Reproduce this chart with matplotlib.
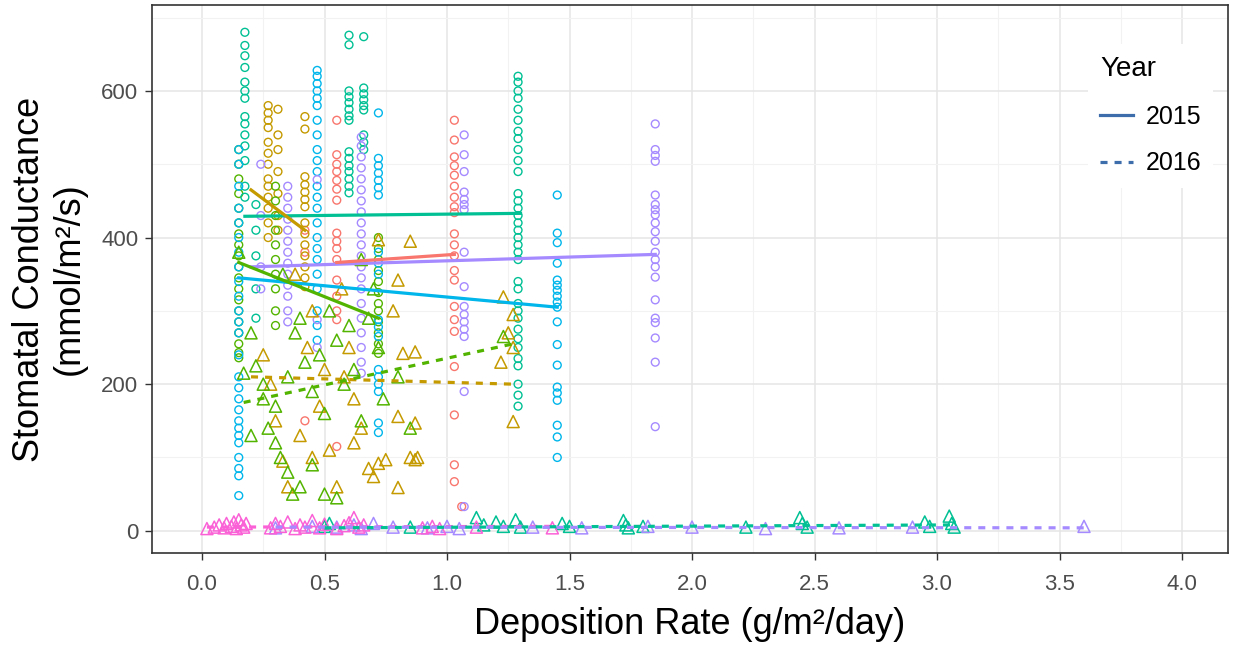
import matplotlib
matplotlib.use("Agg")
import matplotlib.pyplot as plt
from matplotlib.lines import Line2D

plt.rcParams['font.family'] = ['Liberation Sans', 'DejaVu Sans']

# ggplot hue palette, 7 groups
red = '#F8766D'
gold = '#C49A00'
green = '#53B400'
teal = '#00C094'
cyan = '#00B6EB'
purple = '#A58AFF'
pink = '#FB61D7'

# 2015 circles: (deposition rate, conductance values) per column
teal15_cols = [
    (0.175, [680, 662, 648, 632, 612, 600, 590, 565, 555, 540, 525, 505, 470, 455]),
    (0.22, [445, 410, 375, 330, 290]),
    (0.6, [676, 663, 600, 592, 584, 575, 566, 560, 517, 508, 498, 490, 480, 470, 461]),
    (0.66, [674, 604, 596, 588, 580, 574, 540, 530, 520]),
    (1.29, [620, 612, 600, 590, 575, 560, 545, 535, 520, 505, 490, 460, 450, 440, 430, 420,
            410, 400, 390, 380, 370, 340, 330, 310, 300, 290, 275, 262, 250, 235, 225, 200,
            185, 170]),
]
cyan15_cols = [
    (0.15, [520, 500, 470, 440, 420, 400, 380, 360, 340, 320, 300, 285, 270, 240, 210, 195,
            180, 165, 150, 140, 130, 120, 100, 85, 75, 48]),
    (0.47, [628, 620, 610, 600, 590, 580, 560, 540, 520, 505, 490, 470, 455, 440, 420, 400,
            385, 370, 350, 330, 300, 280, 260]),
    (0.72, [570, 508, 498, 488, 478, 468, 458, 380, 365, 350, 288, 278, 265, 220, 210, 200,
            190, 147, 134]),
    (1.45, [458, 406, 393, 365, 342, 335, 328, 320, 312, 305, 285, 254, 226, 196, 188, 178,
            144, 128, 100]),
]
purple15_cols = [
    (0.24, [500, 430, 360, 330]),
    (0.35, [470, 455, 440, 425, 410, 395, 380, 365, 350, 335, 320, 300, 285]),
    (0.47, [479, 288, 250]),
    (0.65, [537, 525, 510, 495, 480, 465, 450, 435, 420, 405, 390, 375, 360, 345, 330, 310,
            290, 270, 250, 230, 215]),
    (1.07, [540, 513, 490, 462, 452, 445, 438, 380, 333, 306, 295, 285, 275, 265, 190, 33]),
    (1.85, [555, 520, 512, 504, 458, 445, 438, 431, 420, 408, 395, 380, 370, 360, 346, 315,
            290, 284, 263, 230, 142]),
]
red15_cols = [
    (0.42, [410, 380, 150]),
    (0.55, [560, 513, 500, 490, 478, 466, 451, 406, 395, 385, 370, 342, 320, 300, 288, 115]),
    (1.03, [560, 533, 510, 498, 485, 470, 455, 442, 434, 405, 390, 375, 355, 342, 306, 288,
            272, 224, 158, 90, 67]),
    (1.06, [33]),
]
gold15_cols = [
    (0.27, [580, 570, 560, 550, 530, 515, 500, 480, 470, 455, 440, 420, 400]),
    (0.31, [575, 540, 520, 490, 460, 430, 410]),
    (0.42, [565, 548, 483, 472, 462, 452, 442, 420, 405, 390, 375, 360, 345, 333]),
]
green15_cols = [
    (0.15, [520, 500, 480, 460, 440, 420, 405, 390, 375, 360, 345, 330, 315, 300, 285, 270,
            255, 243, 236]),
    (0.3, [470, 450, 430, 410, 390, 370, 350, 330, 300, 280]),
    (0.72, [400, 385, 370, 355, 340, 325, 310, 300, 285, 270, 255, 242]),
]

# 2016 triangles
gold16_x = [0.25, 0.28, 0.3, 0.33, 0.35, 0.4, 0.43, 0.45, 0.48, 0.5, 0.52, 0.55, 0.57, 0.6,
            0.62, 0.65, 0.68, 0.7, 0.72, 0.75, 0.78, 0.8, 0.8, 0.8, 0.82, 0.85, 0.87, 0.87,
            0.87, 0.88, 0.72, 0.85, 1.22, 1.23, 1.25, 1.27, 1.27, 1.27, 0.58, 0.62, 0.45,
            0.38]
gold16_y = [240, 200, 150, 95, 60, 130, 250, 100, 170, 220, 110, 60, 330, 250, 180, 140, 85,
            74, 92, 97, 300, 342, 156, 59, 242, 395, 244, 147, 97, 100, 397, 100, 230, 319,
            270, 295, 250, 149, 210, 120, 300, 350]
green16_x = [0.15, 0.17, 0.2, 0.22, 0.25, 0.25, 0.27, 0.3, 0.32, 0.35, 0.35, 0.37, 0.38, 0.4,
             0.4, 0.42, 0.45, 0.48, 0.5, 0.5, 0.52, 0.55, 0.55, 0.58, 0.6, 0.62, 0.65, 0.68,
             0.7, 0.72, 0.74, 0.8, 0.85, 1.23, 0.2, 0.3, 0.33, 0.45, 0.65]
green16_y = [380, 215, 270, 225, 200, 180, 140, 120, 100, 80, 210, 50, 270, 290, 60, 230, 190,
             240, 160, 50, 300, 260, 45, 200, 280, 220, 150, 290, 330, 250, 180, 210, 140, 265,
             130, 170, 350, 90, 370]
pink16_x = [0.02, 0.05, 0.07, 0.09, 0.1, 0.12, 0.13, 0.14, 0.15, 0.16, 0.17, 0.18, 0.28, 0.3,
            0.32, 0.35, 0.38, 0.4, 0.42, 0.45, 0.48, 0.5, 0.55, 0.58, 0.6, 0.62, 0.64, 0.66,
            0.9, 0.94, 0.97, 1.12, 1.43]
pink16_y = [3, 5, 8, 4, 10, 6, 12, 3, 15, 8, 5, 10, 4, 10, 6, 12, 3, 8, 5, 14, 4, 9, 3, 7, 11,
            18, 5, 8, 4, 6, 3, 5, 4]
teal16_x = [0.5, 0.52, 0.85, 1.12, 1.15, 1.2, 1.23, 1.28, 1.3, 1.47, 1.5, 1.72, 1.73, 1.74,
            1.8, 2.22, 2.44, 2.45, 2.47, 2.95, 2.97, 3.05, 3.06, 3.07]
teal16_y = [6, 10, 5, 18, 8, 12, 6, 15, 5, 10, 6, 14, 8, 4, 6, 5, 18, 10, 5, 12, 6, 20, 10, 5]
purple16_x = [0.3, 0.45, 0.55, 0.62, 0.65, 0.7, 0.78, 0.92, 1.0, 1.05, 1.35, 1.55, 1.82, 2.0,
              2.3, 2.6, 2.9, 3.6]
purple16_y = [4, 6, 5, 8, 3, 10, 5, 4, 6, 3, 5, 4, 6, 5, 3, 4, 5, 6]

# fitted lines: (x ends, y ends)
fit15 = [
    (teal, [0.175, 1.3], [429, 433]),
    (cyan, [0.15, 1.45], [345, 305]),
    (purple, [0.2, 1.85], [360, 377]),
    (red, [0.55, 1.03], [366, 377]),
    (gold, [0.2, 0.42], [465, 410]),
    (green, [0.15, 0.72], [366, 290]),
]
fit16 = [
    (gold, [0.2, 1.27], [210, 200]),
    (green, [0.17, 1.27], [175, 255]),
    (pink, [0.02, 1.43], [5, 6]),
    (teal, [0.5, 3.07], [4, 8]),
    (purple, [0.3, 3.6], [5, 4]),
]

fig, ax = plt.subplots(figsize=(12.33, 6.45), dpi=100)
fig.subplots_adjust(left=0.1233, right=0.996, top=0.992, bottom=0.143)

for col, groups in [(red, red15_cols), (gold, gold15_cols), (green, green15_cols),
                    (teal, teal15_cols), (cyan, cyan15_cols), (purple, purple15_cols)]:
    for xv, ys in groups:
        ax.scatter([xv] * len(ys), ys, s=32, facecolors='none', edgecolors=col,
                   linewidths=1.0, zorder=3)

for col, xs, ys in [(gold, gold16_x, gold16_y), (green, green16_x, green16_y),
                    (teal, teal16_x, teal16_y), (purple, purple16_x, purple16_y),
                    (pink, pink16_x, pink16_y)]:
    ax.scatter(xs, ys, s=75, marker='^', facecolors='none', edgecolors=col,
               linewidths=1.1, zorder=3)

for col, xs, ys in fit15:
    ax.plot(xs, ys, color=col, lw=2.3, zorder=4)
for col, xs, ys in fit16:
    ax.plot(xs, ys, color=col, lw=2.3, ls=(0, (2.2, 2.2)), zorder=4)

ax.set_xlim(-0.204, 4.188)
ax.set_ylim(-30, 717)
ax.set_xticks([0, 0.5, 1, 1.5, 2, 2.5, 3, 3.5, 4])
ax.set_xticklabels(['0.0', '0.5', '1.0', '1.5', '2.0', '2.5', '3.0', '3.5', '4.0'])
ax.set_yticks([0, 200, 400, 600])
ax.set_xticks([0.25, 0.75, 1.25, 1.75, 2.25, 2.75, 3.25, 3.75], minor=True)
ax.set_yticks([100, 300, 500, 700], minor=True)
ax.grid(True, which='major', color='#E5E5E5', lw=1.1, zorder=0)
ax.grid(True, which='minor', color='#F2F2F2', lw=0.8, zorder=0)
ax.set_axisbelow(True)
ax.tick_params(which='major', length=5, width=1, color='#333333', labelsize=16,
               labelcolor='#4D4D4D', pad=5)
ax.tick_params(axis='x', which='major', pad=10)
ax.tick_params(which='minor', length=0)
for sp in ax.spines.values():
    sp.set_color('#333333')
    sp.set_linewidth(1.2)

ax.set_xlabel('Deposition Rate (g/m²/day)', fontsize=26, labelpad=9)
ax.set_ylabel('Stomatal Conductance\n(mmol/m²/s)', fontsize=26, labelpad=10)

handles = [Line2D([], [], color='#3D6DAA', lw=2.3),
           Line2D([], [], color='#3D6DAA', lw=2.3, ls=(0, (2.2, 2.2)))]
leg = ax.legend(handles, ['2015', '2016'], title='Year', loc='upper right',
                bbox_to_anchor=(0.998, 0.952), fontsize=18, title_fontsize=20,
                frameon=True, facecolor='white', edgecolor='none', framealpha=1,
                handlelength=1.3, handletextpad=0.5, labelspacing=0.9, borderpad=0.5)
leg._legend_box.align = 'left'

fig.savefig('out.png', dpi=100)
